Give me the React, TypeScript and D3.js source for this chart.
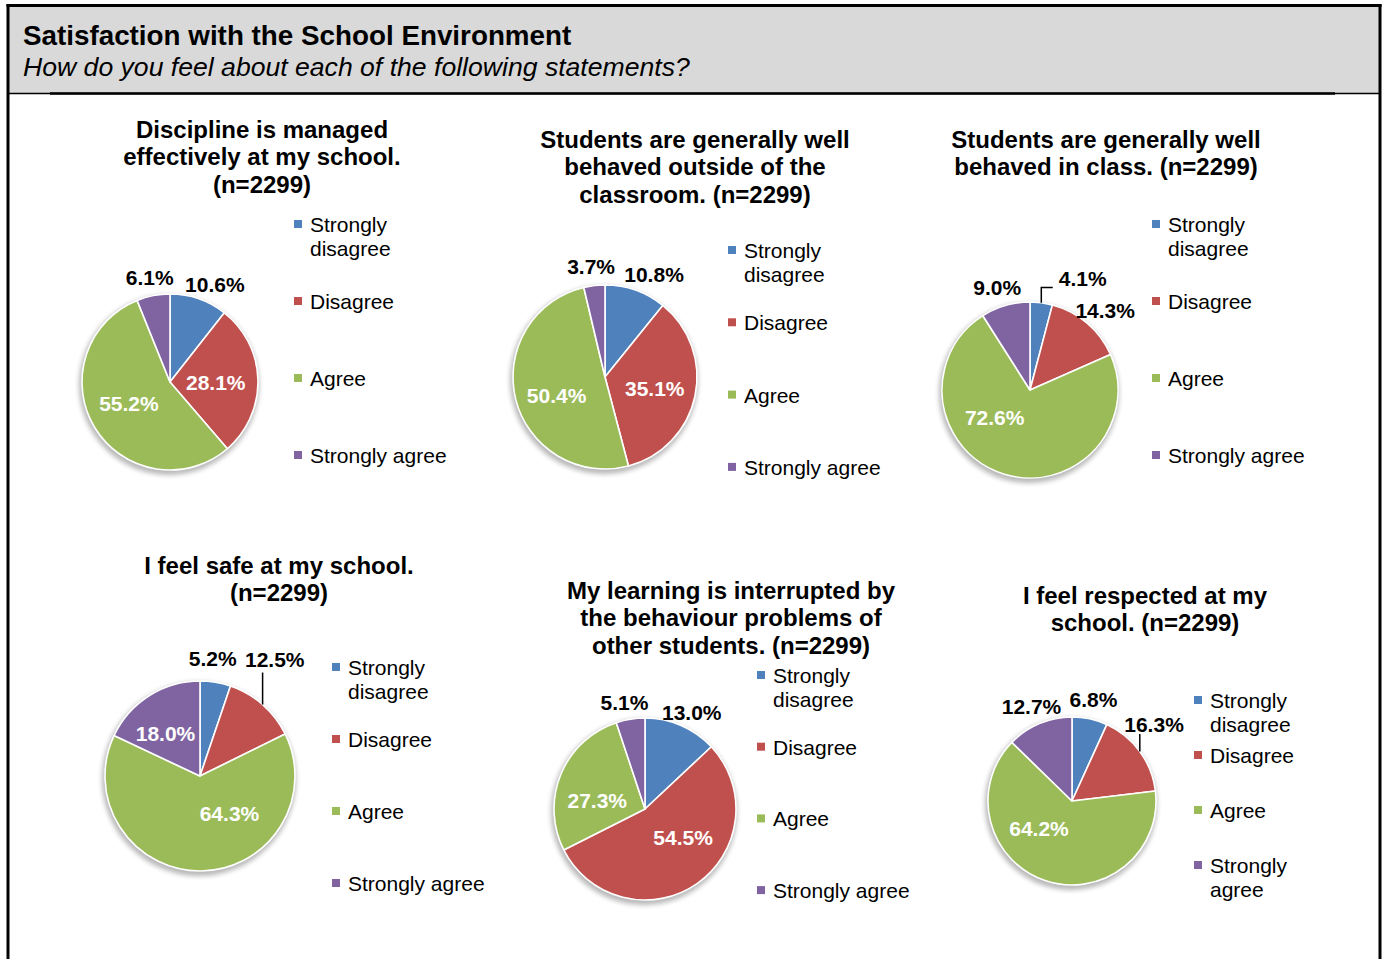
import React from "react";
import * as d3 from "d3";

const CATEGORIES = ["Strongly disagree", "Disagree", "Agree", "Strongly agree"];
const COLORS = ["#4f81bd", "#c0504d", "#9bbb59", "#8064a2"];

const HEADER_TITLE = "Satisfaction with the School Environment";
const HEADER_SUBTITLE = "How do you feel about each of the following statements?";

const TITLE_DISCIPLINE = ["Discipline is managed", "effectively at my school.", "(n=2299)"];
const TITLE_OUTSIDE = ["Students are generally well", "behaved outside of the", "classroom. (n=2299)"];
const TITLE_CLASS = ["Students are generally well", "behaved in class. (n=2299)"];
const TITLE_SAFE = ["I feel safe at my school.", "(n=2299)"];
const TITLE_INTERRUPTED = ["My learning is interrupted by", "the behaviour problems of", "other students. (n=2299)"];
const TITLE_RESPECTED = ["I feel respected at my", "school. (n=2299)"];

// values in order: Strongly disagree, Disagree, Agree, Strongly agree
const VALUES_DISCIPLINE = [10.6, 28.1, 55.2, 6.1];
const VALUES_OUTSIDE = [10.8, 35.1, 50.4, 3.7];
const VALUES_CLASS = [4.1, 14.3, 72.6, 9.0];
const VALUES_SAFE = [5.2, 12.5, 64.3, 18.0];
const VALUES_INTERRUPTED = [13.0, 54.5, 27.3, 5.1];
const VALUES_RESPECTED = [6.8, 16.3, 64.2, 12.7];

const LEGEND_ONE_LINE_AGREE = [["Strongly", "disagree"], ["Disagree"], ["Agree"], ["Strongly agree"]];
const LEGEND_TWO_LINE_AGREE = [["Strongly", "disagree"], ["Disagree"], ["Agree"], ["Strongly", "agree"]];

type Leader = { idx: number; type: "v" | "elbow"; gap: number } | null;
type ChartCfg = {
  title: string[];
  values: number[];
  legend: string[][];
  cx: number; cy: number; r: number;
  titleX: number; titleY: number;
  legX: number; legY: number; legStep: number;
  inside: boolean[];
  nudge: [number, number][];
  leader: Leader;
};

const CHARTS: ChartCfg[] = [
  {
    title: TITLE_DISCIPLINE, values: VALUES_DISCIPLINE, legend: LEGEND_ONE_LINE_AGREE,
    cx: 170, cy: 382, r: 88, titleX: 262, titleY: 129,
    legX: 298, legY: 225, legStep: 77,
    inside: [false, true, true, false],
    nudge: [[10, 3], [0, 1], [-2, -2], [0, 0]],
    leader: null,
  },
  {
    title: TITLE_OUTSIDE, values: VALUES_OUTSIDE, legend: LEGEND_ONE_LINE_AGREE,
    cx: 605, cy: 377, r: 92, titleX: 695, titleY: 139,
    legX: 732, legY: 251, legStep: 72.3,
    inside: [false, true, true, false],
    nudge: [[12, 2], [3, 1], [-2, 7], [-1, 0]],
    leader: null,
  },
  {
    title: TITLE_CLASS, values: VALUES_CLASS, legend: LEGEND_ONE_LINE_AGREE,
    cx: 1030, cy: 390, r: 88, titleX: 1106, titleY: 139,
    legX: 1156, legY: 225, legStep: 77,
    inside: [false, false, true, false],
    nudge: [[39, -6], [6, 1], [-22, -16], [-3, 0]],
    leader: { idx: 0, type: "elbow", gap: 9 },
  },
  {
    title: TITLE_SAFE, values: VALUES_SAFE, legend: LEGEND_ONE_LINE_AGREE,
    cx: 200, cy: 776, r: 95, titleX: 279, titleY: 565,
    legX: 336, legY: 668, legStep: 72,
    inside: [false, false, true, true],
    nudge: [[-6, -4], [-1, -30], [29, -12], [-8, -1]],
    leader: { idx: 1, type: "v", gap: 13 },
  },
  {
    title: TITLE_INTERRUPTED, values: VALUES_INTERRUPTED, legend: LEGEND_ONE_LINE_AGREE,
    cx: 645, cy: 809, r: 91, titleX: 731, titleY: 590,
    legX: 761, legY: 676, legStep: 71.7,
    inside: [false, true, true, false],
    nudge: [[3, 4], [11, -10], [-4, 9], [-3, 2]],
    leader: null,
  },
  {
    title: TITLE_RESPECTED, values: VALUES_RESPECTED, legend: LEGEND_TWO_LINE_AGREE,
    cx: 1072, cy: 801, r: 84, titleX: 1145, titleY: 595,
    legX: 1198, legY: 701, legStep: 55,
    inside: [false, false, true, false],
    nudge: [[0, -2], [0, -17], [-19, -14], [-1, -1]],
    leader: { idx: 1, type: "v", gap: 10 },
  },
];

const FONT = "'Liberation Sans', Arial, Helvetica, sans-serif";
const LABEL_FS = 21;

function textWidth(s: string, fs: number): number {
  const w: Record<string, number> = { ".": 278, "%": 889 };
  let t = 0;
  for (const ch of s) t += w[ch] ?? 556;
  return (t / 1000) * fs;
}

function Pie({ c, i }: { c: ChartCfg; i: number }) {
  const pie = d3.pie<number>().sort(null).value((d) => d);
  const arcs = pie(c.values);
  const arc = d3.arc<d3.PieArcDatum<number>>().innerRadius(0).outerRadius(c.r);
  const color = d3.scaleOrdinal<string, string>().domain(CATEGORIES).range(COLORS);

  const labels = arcs.map((a, k) => {
    const mid = (a.startAngle + a.endAngle) / 2;
    const f = c.inside[k] ? 0.52 : 1.21;
    const x = c.cx + f * c.r * Math.sin(mid) + c.nudge[k][0];
    const y = c.cy - f * c.r * Math.cos(mid) + c.nudge[k][1];
    return { x, y, mid, text: a.data.toFixed(1) + "%", inside: c.inside[k] };
  });

  let leaderPath: string | null = null;
  if (c.leader) {
    const L = labels[c.leader.idx];
    const sx = c.cx + c.r * Math.sin(L.mid);
    const sy = c.cy - c.r * Math.cos(L.mid);
    if (c.leader.type === "v") {
      leaderPath = `M${sx},${sy}L${sx},${L.y + c.leader.gap}`;
    } else {
      const ey = L.y + c.leader.gap;
      const ex = L.x - textWidth(L.text, LABEL_FS) / 2 - 6;
      leaderPath = `M${sx},${sy}L${sx},${ey}L${ex},${ey}`;
    }
  }

  return (
    <g>
      {c.title.map((t, k) => (
        <text key={k} x={c.titleX} y={c.titleY + k * 27.8} dy="0.36em" textAnchor="middle"
          fontFamily={FONT} fontWeight="bold" fontSize={24} fill="#000">{t}</text>
      ))}
      <circle cx={c.cx - 1} cy={c.cy + 3} r={c.r + 2} fill="#000" opacity={0.28} filter={`url(#blur${i})`} />
      <g transform={`translate(${c.cx},${c.cy})`}>
        {arcs.map((a, k) => (
          <path key={k} d={arc(a) || ""} fill={color(CATEGORIES[k])} stroke="#fff" strokeWidth={1.6} strokeLinejoin="round" />
        ))}
      </g>
      {leaderPath && <path d={leaderPath} fill="none" stroke="#000" strokeWidth={1.5} />}
      {labels.map((l, k) => (
        <text key={k} x={l.x} y={l.y} dy="0.36em" textAnchor="middle" fontFamily={FONT}
          fontWeight="bold" fontSize={LABEL_FS} fill={l.inside ? "#fff" : "#000"}>{l.text}</text>
      ))}
      {c.legend.map((lines, k) => {
        const y0 = c.legY + k * c.legStep;
        return (
          <g key={k}>
            <rect x={c.legX - 4} y={y0 - 5} width={8} height={8} fill={color(CATEGORIES[k])} />
            {lines.map((ln, j) => (
              <text key={j} x={c.legX + 12} y={y0 + j * 24.5} dy="0.33em" fontFamily={FONT}
                fontSize={21} fill="#000">{ln}</text>
            ))}
          </g>
        );
      })}
    </g>
  );
}

export default function App() {
  const W = 1384, H = 959;
  return (
    <svg width={W} height={H} viewBox={`0 0 ${W} ${H}`}
      style={{ position: "absolute", left: 0, top: 0, background: "#fff" }}>
      <defs>
        {CHARTS.map((_, i) => (
          <filter key={i} id={`blur${i}`} x="-30%" y="-30%" width="160%" height="160%">
            <feGaussianBlur stdDeviation="2.8" />
          </filter>
        ))}
      </defs>
      <rect x={0} y={0} width={W} height={H} fill="#fff" />
      <rect x={8} y={6} width={1372} height={87} fill="#d9d9d9" />
      <line x1={6.5} y1={5.5} x2={1381.5} y2={5.5} stroke="#000" strokeWidth={3} />
      <line x1={8} y1={4} x2={8} y2={H} stroke="#000" strokeWidth={3} />
      <line x1={1380} y1={4} x2={1380} y2={H} stroke="#000" strokeWidth={3} />
      <line x1={8} y1={93.5} x2={1380} y2={93.5} stroke="#000" strokeWidth={1.3} />
      <line x1={50} y1={93.5} x2={1335} y2={93.5} stroke="#000" strokeWidth={2.5} />
      <text x={23} y={35} dy="0.36em" fontFamily={FONT} fontWeight="bold" fontSize={27.8} fill="#000">{HEADER_TITLE}</text>
      <text x={23} y={67} dy="0.33em" fontFamily={FONT} fontStyle="italic" fontSize={26.6} fill="#000">{HEADER_SUBTITLE}</text>
      {CHARTS.map((c, i) => (
        <Pie key={i} c={c} i={i} />
      ))}
    </svg>
  );
}
